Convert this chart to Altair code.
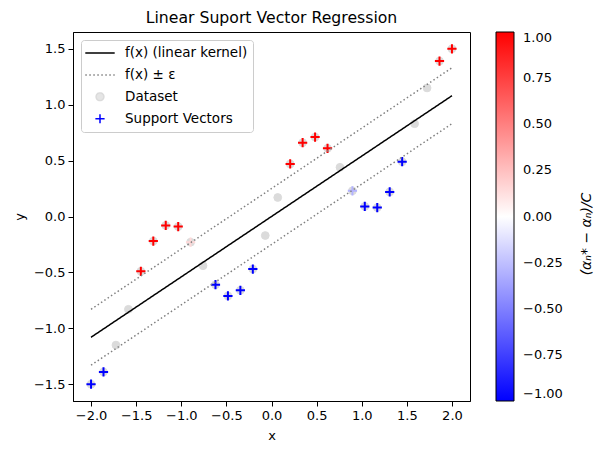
import altair as alt
import pandas as pd

# Dataset
x_vals = [-2.000, -1.862, -1.724, -1.586, -1.448, -1.310, -1.172, -1.034, -0.897, -0.759,
          -0.621, -0.483, -0.345, -0.207, -0.069, 0.069, 0.207, 0.345, 0.483, 0.621,
          0.759, 0.897, 1.034, 1.172, 1.310, 1.448, 1.586, 1.724, 1.862, 2.000]
y_vals = [-1.50, -1.39, -1.15, -0.83, -0.49, -0.22, -0.08, -0.09, -0.23, -0.44,
          -0.61, -0.71, -0.66, -0.47, -0.17, 0.17, 0.47, 0.66, 0.71, 0.61,
          0.44, 0.23, 0.09, 0.08, 0.22, 0.49, 0.83, 1.15, 1.39, 1.50]
# (alpha*_n - alpha_n)/C for support vectors, None = not a support vector
sv_coef = [-1, -1, None, None, 1, 1, 1, 1, 0.15, None,
           -1, -1, -1, -1, None, None, 1, 1, 1, 1,
           None, -0.3, -1, -1, -1, -1, None, None, 1, 1]

# Regression line and epsilon tube
fit_x = [-2.0, 2.0]
fit_y = [-1.08, 1.08]
upper_y = [-0.83, 1.33]
lower_y = [-1.33, 0.83]

SERIES = ["f(x) (linear kernel)", "f(x) ± ε", "Dataset", "Support Vectors"]
SERIES_STROKE = ["black", "gray", "#808080", "blue"]
SERIES_FILL = ["transparent", "transparent", "#808080", "transparent"]
SERIES_SHAPE = ["M-2.1,0H2.1", "M-2.1,0H2.1", "circle", "M-1,0H1M0,-1V1"]
SERIES_SIZE = [196, 196, 60, 85]
SERIES_OPACITY = [1, 1, 0.28, 1]
SERIES_DASH = [[1, 0], [1.5, 2.5], [1, 0], [1, 0]]
BWR = ["#0000ff", "#ffffff", "#ff0000"]
CBAR_TICKS = [-1.0, -0.75, -0.5, -0.25, 0.0, 0.25, 0.5, 0.75, 1.0]
TICKS = [-2.0, -1.5, -1.0, -0.5, 0.0, 0.5, 1.0, 1.5, 2.0]
CBAR_LABEL = "(αₙ* − αₙ)/C"

points = pd.DataFrame({"x": x_vals, "y": y_vals, "series": SERIES[2]})
sv = pd.DataFrame({"x": x_vals, "y": y_vals, "coef": sv_coef}).dropna().assign(series=SERIES[3])
fit = pd.DataFrame({"x": fit_x, "y": fit_y, "series": SERIES[0]})
band = pd.concat([
    pd.DataFrame({"x": fit_x, "y": upper_y, "side": "upper"}),
    pd.DataFrame({"x": fit_x, "y": lower_y, "side": "lower"}),
]).assign(series=SERIES[1])

legend = alt.Legend(
    title=None, orient="top-left", offset=8, padding=5, rowPadding=7,
    fillColor="rgba(255,255,255,0.8)", strokeColor="#cccccc", cornerRadius=3,
    labelFontSize=13.5, labelOffset=17, symbolOffset=6, symbolStrokeWidth=1.5,
)


def scale(values, kind="ordinal"):
    return alt.Scale(type=kind, domain=SERIES, range=values)


stroke = alt.Stroke("series:N", scale=scale(SERIES_STROKE), legend=legend)
fill = alt.Fill("series:N", scale=scale(SERIES_FILL), legend=legend)
shape = alt.Shape("series:N", scale=scale(SERIES_SHAPE), legend=legend)
size = alt.Size("series:N", scale=scale(SERIES_SIZE), legend=legend)
opacity = alt.Opacity("series:N", scale=scale(SERIES_OPACITY), legend=legend)
dash = alt.StrokeDash("series:N", scale=scale(SERIES_DASH), legend=legend)

x_enc = alt.X("x:Q", title="x", scale=alt.Scale(domain=[-2.2, 2.2], nice=False, zero=False),
              axis=alt.Axis(values=TICKS, format=".1f"))
y_enc = alt.Y("y:Q", title="y", scale=alt.Scale(domain=[-1.65, 1.65], nice=False, zero=False),
              axis=alt.Axis(values=TICKS[1:-1], format=".1f"))

circles = alt.Chart(points).mark_point(filled=True, strokeWidth=1).encode(
    x=x_enc, y=y_enc, fill=fill, stroke=stroke, shape=shape, size=size, opacity=opacity
)

support = alt.Chart(sv).mark_point(strokeWidth=2, filled=False).encode(
    x="x:Q", y="y:Q", shape=shape, size=size, opacity=opacity,
    color=alt.Color(
        "coef:Q",
        scale=alt.Scale(domain=[-1, 0, 1], range=BWR, interpolate="rgb"),
        legend=alt.Legend(
            title=None, orient="none", legendX=423, legendY=0, direction="vertical",
            gradientLength=369, gradientThickness=18, gradientStrokeColor="black",
            gradientStrokeWidth=1, gradientOpacity=1, values=CBAR_TICKS, format=".2f",
            labelFontSize=13, labelOffset=9, labelBaseline="middle", padding=0,
        ),
    ),
)

tube = alt.Chart(band).mark_line(strokeWidth=1.5).encode(
    x="x:Q", y="y:Q", detail="side:N", stroke=stroke, strokeDash=dash
)
line = alt.Chart(fit).mark_line(strokeWidth=1.5).encode(
    x="x:Q", y="y:Q", stroke=stroke, strokeDash=dash
)

cbar_title = alt.Chart(pd.DataFrame({"t": [CBAR_LABEL]})).mark_text(
    angle=270, fontSize=14, fontStyle="italic", align="center", baseline="middle"
).encode(x=alt.value(514), y=alt.value(202), text="t:N")

chart = alt.layer(circles, support, tube, line, cbar_title).properties(
    width=397, height=369,
    title=alt.TitleParams("Linear Suport Vector Regression", fontSize=15.7,
                          fontWeight="normal", anchor="middle", offset=5),
    padding={"left": 65, "top": 24, "right": 125, "bottom": 46},
    autosize="none",
).configure(font="DejaVu Sans").configure_view(
    stroke="black", strokeWidth=1
).configure_axis(
    grid=False, domainColor="black", tickColor="black", labelColor="black",
    titleColor="black", tickSize=5, labelPadding=3, labelFontSize=13,
    titleFontSize=13, titleFontWeight="normal", titlePadding=7,
).configure_legend(labelColor="black")

chart.save("out.html", embed_options={"renderer": "svg", "actions": False})
